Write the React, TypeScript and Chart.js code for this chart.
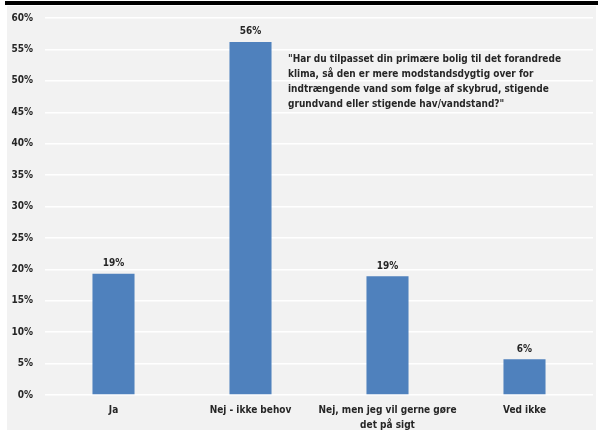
import React, { useEffect, useRef } from "react";
import { Chart, registerables } from "chart.js";

Chart.register(...registerables);

const categories: (string | string[])[] = [
  "Ja",
  "Nej - ikke behov",
  ["Nej, men jeg vil gerne gøre", "det på sigt"],
  "Ved ikke",
];
const values: number[] = [19.3, 56.2, 18.9, 5.7];
const valueLabels: string[] = ["19%", "56%", "19%", "6%"];
const yTicks: number[] = [0, 5, 10, 15, 20, 25, 30, 35, 40, 45, 50, 55, 60];
const questionLines: string[] = [
  "\"Har du tilpasset din primære bolig til det forandrede",
  "klima, så den er mere modstandsdygtig over for",
  "indtrængende vand som følge af skybrud, stigende",
  "grundvand eller stigende hav/vandstand?\"",
];

const FONT = "'Liberation Sans Narrow', 'DejaVu Sans Condensed', 'Liberation Sans', sans-serif";
const TEXT = "#262626";

const bgPlugin = {
  id: "bg",
  beforeDraw(chart: any) {
    const ctx = chart.ctx;
    ctx.save();
    ctx.fillStyle = "#ffffff";
    ctx.fillRect(0, 0, chart.width, chart.height);
    ctx.fillStyle = "#000000";
    ctx.fillRect(5, 1, chart.width - 5, 4);
    ctx.fillStyle = "#f2f2f2";
    ctx.fillRect(7, 6, chart.width - 9, chart.height - 8);
    ctx.restore();
  },
};

const labelPlugin = {
  id: "valueLabels",
  afterDatasetsDraw(chart: any) {
    const ctx = chart.ctx;
    const meta = chart.getDatasetMeta(0);
    ctx.save();
    ctx.font = `bold 10px ${FONT}`;
    ctx.fillStyle = TEXT;
    ctx.textAlign = "center";
    ctx.textBaseline = "middle";
    meta.data.forEach((bar: any, i: number) => {
      ctx.fillText(valueLabels[i], bar.x, bar.y - 10);
    });
    // question annotation
    ctx.textAlign = "left";
    const area = chart.chartArea;
    const x0 = area.left + 243;
    const y0 = area.top + 41;
    questionLines.forEach((line, i) => {
      ctx.fillText(line, x0, y0 + i * 15);
    });
    ctx.restore();
  },
};

export default function App() {
  const ref = useRef<HTMLCanvasElement | null>(null);
  useEffect(() => {
    if (!ref.current) return;
    const chart = new Chart(ref.current, {
      type: "bar",
      data: {
        labels: categories,
        datasets: [
          {
            data: values,
            backgroundColor: "#4f81bd",
            borderWidth: 0,
            categoryPercentage: 1,
            barPercentage: 0.307,
          },
        ],
      },
      options: {
        responsive: false,
        animation: false,
        devicePixelRatio: 1,
        layout: { padding: { top: 18, right: 5, left: 0, bottom: 0 } },
        plugins: { legend: { display: false }, tooltip: { enabled: false } },
        scales: {
          y: {
            min: 0,
            max: 60,
            afterBuildTicks: (s: any) => {
              s.ticks = yTicks.map((v) => ({ value: v }));
            },
            ticks: {
              callback: (v: any) => `${v}%`,
              color: TEXT,
              font: { family: FONT, weight: "bold", size: 10 },
              padding: 12,
            },
            grid: { color: "#ffffff", lineWidth: 1.5, drawTicks: false },
            border: { display: false },
            afterFit: (s: any) => {
              s.width = 45;
            },
          },
          x: {
            grid: { display: false, drawTicks: false },
            border: { display: false },
            ticks: {
              color: TEXT,
              font: { family: FONT, weight: "bold", size: 10, lineHeight: 1.5 },
              padding: 8,
              maxRotation: 0,
              autoSkip: false,
            },
            afterFit: (s: any) => {
              s.height = 37;
            },
          },
        },
      },
      plugins: [bgPlugin, labelPlugin],
    });
    return () => chart.destroy();
  }, []);
  return (
    <div style={{ position: "absolute", left: 0, top: 0, width: 598, height: 432 }}>
      <canvas ref={ref} width={598} height={432} style={{ display: "block" }} />
    </div>
  );
}
